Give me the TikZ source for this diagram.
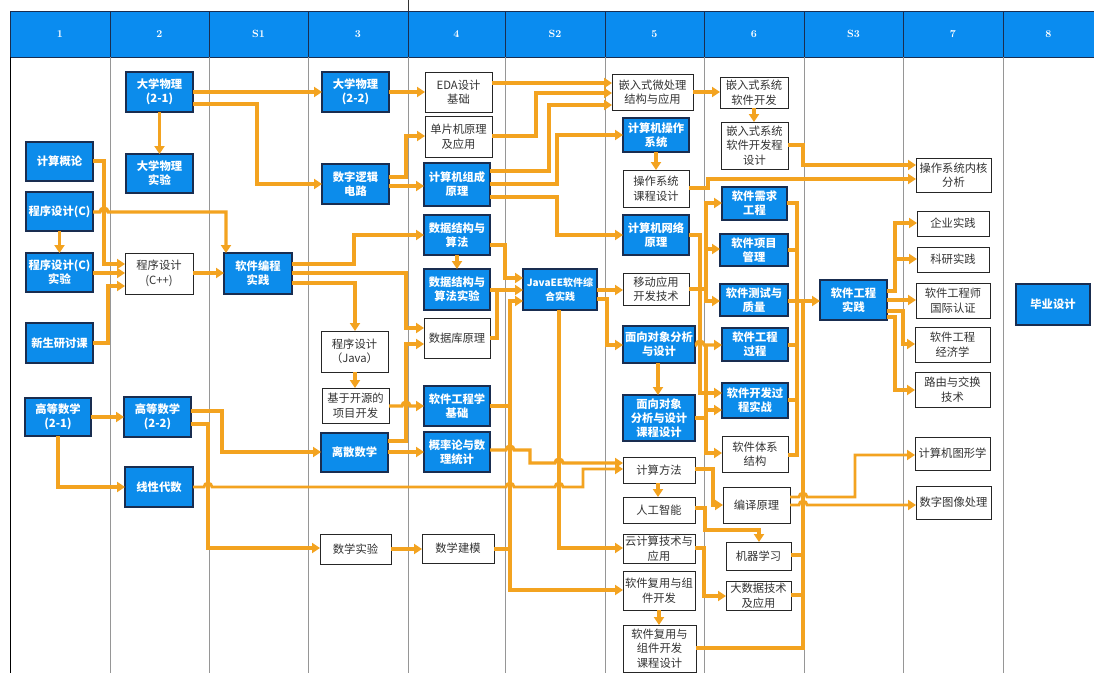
\documentclass[tikz,border=0pt]{standalone}
\usepackage{fontspec}
\newfontfamily\cjk{Noto Sans CJK SC}
\usetikzlibrary{arrows.meta}
\definecolor{hdrblue}{RGB}{10,140,240}
\definecolor{nodeblue}{RGB}{12,140,235}
\definecolor{navy}{RGB}{25,45,80}
\definecolor{conn}{RGB}{243,163,32}
\definecolor{divider}{RGB}{150,150,150}
\newcommand\nd[7]{\node[#1,minimum width={#5pt-#3pt},minimum height={#6pt-#4pt}] (#2) at ({(#3+#5)/2},{(#4+#6)/2}) {#7};}
\begin{document}
\begin{tikzpicture}[x=1pt,y=-1pt,
 bnode/.style={draw=navy,line width=1.1pt,fill=nodeblue,text=white,font=\cjk\bfseries\fontsize{11.3}{14}\selectfont,align=center,inner sep=0pt,outer sep=0pt},
 wnode/.style={draw=black!85,line width=1pt,fill=white,text=black!80,font=\cjk\fontsize{11.3}{14.5}\selectfont,align=center,inner sep=0pt,outer sep=0pt},
 arr/.style={draw=conn,line width=3.2pt,-{Triangle[length=8pt,width=10pt]}},
 ln/.style={draw=conn,line width=3.2pt},
 hdr/.style={text=white,font=\bfseries\fontsize{10.5}{12}\selectfont}]
\useasboundingbox (0,0) rectangle (1094,673);
\fill[white] (0,0) rectangle (1094,673);
% header
\fill[hdrblue] (10,11) rectangle (1094,57);
\draw[navy,line width=0.9pt] (10,11) rectangle (1094,57);
\foreach \x in {110,209,308,408,505,605,704,804,903,1003}{
  \draw[navy,line width=0.9pt] (\x,11) -- (\x,57);
  \draw[divider,line width=1pt] (\x,57) -- (\x,673);
}
\draw[black,line width=1pt] (10,57) -- (10,673);
\draw[black!80,line width=0.7pt] (408,0) -- (408,11);
\foreach \x/\t in {60/1,159.5/2,258.5/S1,358/3,456.5/4,555/S2,654.5/5,754/6,853.5/S3,953/7,1048.5/8}{
  \node[hdr] (h\t) at (\x,34) {\t};
}
% nodes column 1
\nd{bnode}{c1a}{26}{142}{93}{181}{计算概论}
\nd{bnode}{c1b}{26}{192}{93}{231}{程序设计(C)}
\nd{bnode}{c1c}{26}{253}{93}{292}{程序设计(C)\\实验}
\nd{bnode}{c1d}{26}{323}{93}{363}{新生研讨课}
\nd{bnode}{c1e}{25}{398}{91}{436}{高等数学\\(2-1)}
% column 2
\nd{bnode}{c2a}{126}{72}{193}{112}{大学物理\\(2-1)}
\nd{bnode}{c2b}{126}{154}{193}{193}{大学物理\\实验}
\nd{wnode}{c2c}{125}{253}{193}{294}{程序设计\\(C++)}
\nd{bnode}{c2d}{124}{397}{191}{437}{高等数学\\(2-2)}
\nd{bnode}{c2e}{125}{467}{193}{507}{线性代数}
% S1
\nd{bnode}{s1a}{224}{253}{292}{294}{软件编程\\实践}
% column 3
\nd{bnode}{c3a}{322}{72}{389}{112}{大学物理\\(2-2)}
\nd{bnode}{c3b}{322}{164}{389}{204}{数字逻辑\\电路}
\nd{wnode}{c3c}{321}{331}{388}{372}{程序设计\\（Java）}
\nd{wnode}{c3d}{322}{388}{389}{423}{基于开源的\\项目开发}
\nd{bnode}{c3e}{321}{433}{388}{472}{离散数学}
\nd{wnode}{c3f}{320}{534}{391}{564}{数学实验}
% column 4
\nd{wnode}{c4a}{425}{72}{492}{112}{EDA设计\\基础}
\nd{wnode}{c4b}{425}{116}{492}{157}{单片机原理\\及应用}
\nd{bnode}{c4c}{424}{163}{490}{206}{计算机组成\\原理}
\nd{bnode}{c4d}{424}{215}{490}{255}{数据结构与\\算法}
\nd{bnode}{c4e}{424}{269}{490}{310}{数据结构与\\算法实验}
\nd{wnode}{c4f}{424}{318}{490}{358}{数据库原理}
\nd{bnode}{c4g}{424}{386}{490}{426}{软件工程学\\基础}
\nd{bnode}{c4h}{424}{432}{490}{472}{概率论与数\\理统计}
\nd{wnode}{c4i}{422}{534}{494}{563}{数学建模}
% S2
\nd{bnode,font=\cjk\bfseries\fontsize{10}{14}\selectfont}{s2a}{523}{269}{597}{310}{JavaEE软件综\\合实践}
% column 5
\nd{wnode}{c5a}{612}{74}{693}{110}{嵌入式微处理\\结构与应用}
\nd{bnode}{c5b}{623}{118}{689}{152}{计算机操作\\系统}
\nd{wnode}{c5c}{623}{170}{689}{207}{操作系统\\课程设计}
\nd{bnode}{c5d}{623}{215}{689}{255}{计算机网络\\原理}
\nd{wnode}{c5e}{623}{273}{689}{305}{移动应用\\开发技术}
\nd{bnode}{c5f}{623}{326}{695}{363}{面向对象分析\\与设计}
\nd{bnode}{c5g}{623}{395}{695}{441}{面向对象\\分析与设计\\课程设计}
\nd{wnode}{c5h}{623}{457}{695}{483}{计算方法}
\nd{wnode}{c5i}{623}{497}{695}{523}{人工智能}
\nd{wnode}{c5j}{623}{534}{695}{563}{云计算技术与\\应用}
\nd{wnode}{c5k}{623}{571}{695}{610}{软件复用与组\\件开发}
\nd{wnode}{c5l}{623}{625}{696}{672}{软件复用与\\组件开发\\课程设计}
% column 6
\nd{wnode}{c6a}{720}{77}{788}{108}{嵌入式系统\\软件开发}
\nd{wnode}{c6b}{721}{122}{788}{169}{嵌入式系统\\软件开发程\\设计}
\nd{bnode}{c6c}{722}{187}{787}{220}{软件需求\\工程}
\nd{bnode}{c6d}{720}{234}{788}{266}{软件项目\\管理}
\nd{bnode}{c6e}{720}{284}{788}{316}{软件测试与\\质量}
\nd{bnode}{c6f}{722}{328}{788}{361}{软件工程\\过程}
\nd{bnode}{c6g}{722}{383}{788}{418}{软件开发过\\程实战}
\nd{wnode}{c6h}{722}{436}{788}{472}{软件体系\\结构}
\nd{wnode}{c6i}{723}{487}{790}{523}{编译原理}
\nd{wnode}{c6j}{726}{542}{791}{570}{机器学习}
\nd{wnode}{c6k}{726}{581}{791}{610}{大数据技术\\及应用}
% S3
\nd{bnode}{s3a}{820}{280}{887}{320}{软件工程\\实践}
% column 7
\nd{wnode}{c7a}{916}{158}{991}{192}{操作系统内核\\分析}
\nd{wnode}{c7b}{917}{211}{989}{236}{企业实践}
\nd{wnode}{c7c}{917}{247}{989}{272}{科研实践}
\nd{wnode}{c7d}{916}{283}{990}{318}{软件工程师\\国际认证}
\nd{wnode}{c7e}{915}{327}{990}{362}{软件工程\\经济学}
\nd{wnode}{c7f}{915}{372}{990}{407}{路由与交换\\技术}
\nd{wnode}{c7g}{915}{437}{990}{470}{计算机图形学}
\nd{wnode}{c7h}{916}{486}{991}{519}{数字图像处理}
% column 8
\nd{bnode}{c8a}{1016}{284}{1090}{325}{毕业设计}
% connectors columns 1-2
\draw[arr] (c2a.east|-0,92) -- (c3a.west|-0,92);
\draw[arr] (c2a.east|-0,104) -| (257,184) -- (c3b.west|-0,184);
\draw[arr] (c2a.south) -- (c2b.north);
\draw[arr] (c1a.east|-0,161) -| (104,264) -- (c2c.west|-0,264);
\draw[arr] (c1b.east|-0,212) -- (100,212) arc[start angle=180,end angle=0,radius=4pt] -- (226,212) -- (s1a.north-|226,0);
\draw[arr] (c1b.south) -- (c1c.north);
\draw[arr] (c1c.east|-0,273) -- (c2c.west|-0,273);
\draw[arr] (c1d.east|-0,343) -| (108,286) -- (c2c.west|-0,286);
\draw[arr] (c2c.east|-0,273) -- (s1a.west|-0,273);
\draw[arr] (c1e.east|-0,417) -- (c2d.west|-0,417);
\draw[arr] (c1e.south-|58,0) |- (c2e.west|-0,487);
\draw[arr] (c2d.east|-0,411) -| (222,452) -- (c3e.west|-0,452);
\draw[arr] (c2d.east|-0,424) -| (208,548) -- (c3f.west|-0,548);
\draw[arr,line width=2.8pt] (c2e.east|-0,487) -- (204,487) arc[start angle=180,end angle=0,radius=4pt] -- (506,487) arc[start angle=180,end angle=0,radius=4pt] -- (555,487) arc[start angle=180,end angle=0,radius=4pt] -- (583,487) -- (583,469) -- (c5h.west|-0,469);
% column 3
\draw[arr] (c3a.east|-0,92) -- (c4a.west|-0,92);
\draw[arr] (c3b.east|-0,177) -| (406,136) -- (c4b.west|-0,136);
\draw[arr] (c3b.east|-0,186) -- (c4c.west|-0,186);
\draw[arr] (s1a.east|-0,264) -| (354,235) -- (c4d.west|-0,235);
\draw[arr] (s1a.east|-0,273) -| (406,328) -- (c4f.west|-0,328);
\draw[arr] (s1a.east|-0,283) -| (c3c.north-|355,0);
\draw[arr] (c3c.south-|355,0) -- (c3d.north-|355,0);
\draw[arr] (c3d.east|-0,406) -- (402,406) arc[start angle=180,end angle=0,radius=4pt] -- (c4g.west|-0,406);
\draw[arr] (c3e.east|-0,441) -| (406,344) -- (c4f.west|-0,344);
\draw[arr] (c3e.east|-0,452) -- (c4h.west|-0,452);
\draw[arr] (c3f.east|-0,549) -- (c4i.west|-0,549);
% column 4
\draw[arr] (c4a.east|-0,83) -- (c5a.west|-0,83);
\draw[arr] (c4b.east|-0,136) -| (536,93) -- (c5a.west|-0,93);
\draw[arr] (c4c.east|-0,171) -| (549,105) -- (c5a.west|-0,105);
\draw[arr] (c4c.east|-0,184) -| (557,135) -- (c5b.west|-0,135);
\draw[arr] (c4c.east|-0,197) -| (557,235) -- (c5d.west|-0,235);
\draw[arr] (c4d.south) -- (c4e.north);
\draw[arr] (c4d.east|-0,245) -| (505,278) -- (s2a.west|-0,278);
\draw[arr] (c4e.east|-0,290) -- (s2a.west|-0,290);
\draw[ln] (c4f.east|-0,338) -| (497,290);
\draw[arr] (c4g.east|-0,406) -| (510,301) -- (s2a.west|-0,301);
\draw[arr] (c4g.east|-0,406) -| (510,590) -- (c5k.west|-0,590);
\draw[ln] (c4i.east|-0,549) -- (510,549);
\draw[arr] (c4h.east|-0,450) -- (506,450) arc[start angle=180,end angle=0,radius=4pt] -- (530,450) -- (530,463) -- (555,463) arc[start angle=180,end angle=0,radius=4pt] -- (c5h.west|-0,463);
% S2
\draw[arr] (s2a.south-|559,0) |- (c5j.west|-0,548);
\draw[arr] (s2a.east|-0,290) -- (c5e.west|-0,290);
\draw[arr] (s2a.east|-0,299) -| (607,345) -- (c5f.west|-0,345);
% column 5
\draw[arr] (c5a.east|-0,92) -- (c6a.west|-0,92);
\draw[arr] (c5b.south) -- (c5c.north);
\draw[arr] (c6a.south) -- (c6a.south|-c6b.north);
\draw[arr] (c6b.east|-0,145) -| (803,165) -- (c7a.west|-0,165);
\draw[arr] (c5c.east|-0,188) -| (708,179) -- (c7a.west|-0,179);
\draw[arr] (c5d.east|-0,235) -| (700,393) -- (c6g.west|-0,393);
\draw[arr] (c5e.east|-0,289) -| (706,203) -- (c6c.west|-0,203);
\draw[arr] (c5e.east|-0,289) -| (706,249) -- (c6d.west|-0,249);
\draw[arr] (c5e.east|-0,289) -| (706,301) -- (c6e.west|-0,301);
\draw[arr] (c5f.east|-0,345) -- (696,345) arc[start angle=180,end angle=0,radius=4pt] -- (c6f.west|-0,345);
\coordinate (j1) at (706,345);
\draw[arr] (j1) |- (c6h.west|-0,453);
\draw[arr] (c5f.south-|658,0) -- (c5g.north-|658,0);
\draw[arr] (c5g.east|-0,418) -| (706,410) -- (c6g.west|-0,410);
\draw[arr] (c5h.south-|658,0) -- (c5i.north-|658,0);
\draw[arr] (c5h.east|-0,469) -| (713,505) -- (c6i.west|-0,505);
\draw[arr] (c5i.east|-0,508) -| (705,530) -| (c6j.north-|759,0);
\draw[arr] (c5j.east|-0,548) -| (704,596) -- (c6k.west|-0,596);
\draw[arr] (c5k.south-|659,0) -- (c5l.north-|659,0);
% column 6 to S3
\draw[ln] (c6c.east|-0,203) -| (797,301);
\draw[ln] (c6d.east|-0,250) -- (797,250);
\draw[ln] (c6f.east|-0,345) -- (797,345);
\draw[ln] (c6g.east|-0,400) -- (797,400);
\draw[ln] (c6h.east|-0,455) -| (797,301);
\draw[ln] (c5l.east|-0,648) -| (803,301);
\draw[ln] (c6j.east|-0,555) -- (803,555);
\draw[ln] (c6k.east|-0,595) -- (803,595);
\draw[arr] (c6e.east|-0,301) -- (s3a.west|-0,301);
\draw[arr,line width=2.8pt] (c6i.east|-0,497) -- (799,497) arc[start angle=180,end angle=0,radius=4pt] -- (855,497) -- (855,455) -- (c7g.west|-0,455);
\draw[arr,line width=2.8pt] (c6i.east|-0,505) -- (799,505) arc[start angle=180,end angle=0,radius=4pt] -- (c7h.west|-0,505);
% S3 outputs
\draw[arr] (s3a.east|-0,291) -| (895,223) -- (c7b.west|-0,223);
\draw[arr] (s3a.east|-0,291) -| (895,259) -- (c7c.west|-0,259);
\draw[arr] (s3a.east|-0,300) -- (c7d.west|-0,300);
\draw[arr] (s3a.east|-0,311) -| (903,344) -- (c7e.west|-0,344);
\draw[arr] (s3a.east|-0,317) -| (895,390) -- (c7f.west|-0,390);
\end{tikzpicture}
\end{document}
